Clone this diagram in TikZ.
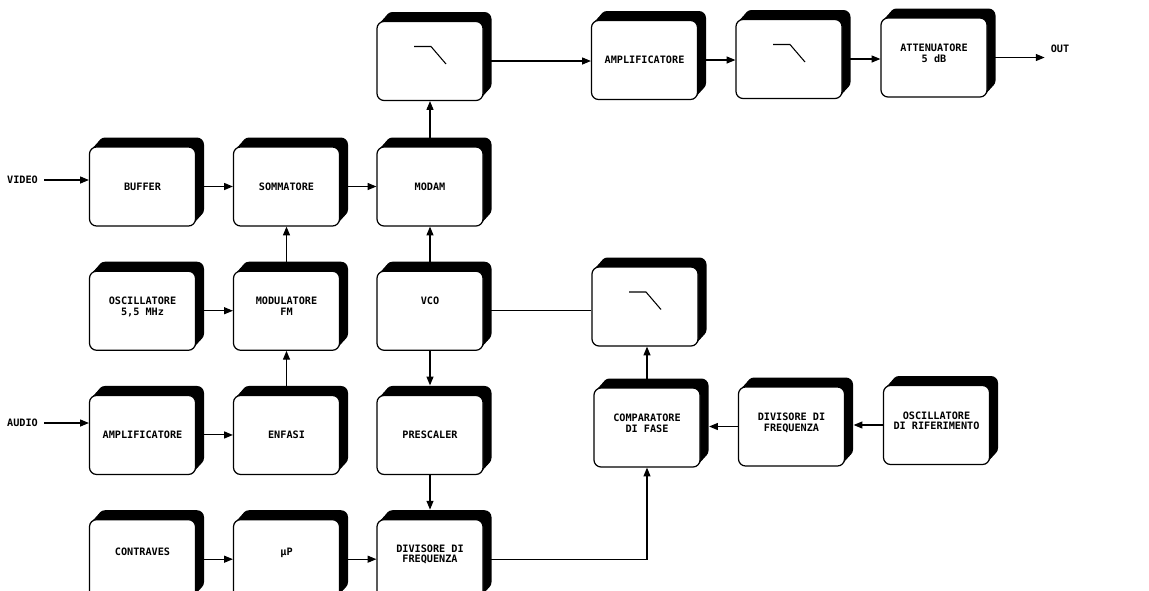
\documentclass[tikz,border=0pt]{standalone}
\usepackage{fontspec}
\newfontfamily\plotfont{DejaVu Sans Mono}
\usepackage{tikz}
\usetikzlibrary{arrows.meta, positioning, shadows}
\tikzset{
  blk/.style ={rectangle, rounded corners=4pt, draw, line width=0.7pt, fill=white,
               minimum width=2.12cm, minimum height=1.58cm, align=center,
               font=\plotfont\bfseries\fontsize{5.8}{6.0}\selectfont,
               general shadow={fill=black, shadow xshift=0.045cm, shadow yshift=0.05cm},
               general shadow={fill=black, shadow xshift=0.09cm,  shadow yshift=0.1cm},
               general shadow={fill=black, shadow xshift=0.135cm, shadow yshift=0.15cm},
               general shadow={fill=black, shadow xshift=0.17cm,  shadow yshift=0.19cm}},
  lpf/.style ={blk, path picture={\draw[line width=0.6pt, sharp corners]
               ([xshift=-0.32cm,yshift=0.29cm]path picture bounding box.center)
               -- ++(0.34cm,0) -- ++(0.3cm,-0.35cm);}},
  lift/.style={text depth=#1},
  sig/.style ={font=\plotfont\bfseries\fontsize{5.8}{6.0}\selectfont},
  arr/.style ={-{Triangle[length=5pt,width=4pt]}, line width=0.6pt},
  arrl/.style={arr, shorten >=0.17cm},
  arrd/.style={arr, shorten >=0.19cm},
}
\begin{document}
\begin{tikzpicture}[node distance=0.88cm and 0.76cm]

  \path[fill=white, use as bounding box] (0,0) rectangle (22.98,-11.8);

  % ── Top row: filters and output stage ──────────────────────────────
  \node[lpf] (filt1) at (8.60,-1.22)  {};
  \node[blk] (amp2)  at (12.89,-1.20) {AMPLIFICATORE};
  \node[lpf] (filt2) at (15.78,-1.18) {};
  \node[blk, lift=0.18cm] (att) at (18.68,-1.15) {ATTENUATORE\\5 dB};
  \node[sig] (out)   at (21.2,-0.98)  {OUT};

  % ── Video / sound chain ────────────────────────────────────────────
  \node[blk] (buf)   at (2.85,-3.73)  {BUFFER};
  \node[blk] (somm)  at (5.73,-3.73)  {SOMMATORE};
  \node[blk] (modam) at (8.60,-3.73)  {MODAM};
  \node[sig] (video) at (0.45,-3.60)  {VIDEO};

  \node[blk, lift=0.18cm, below=of buf]  (osc)   {OSCILLATORE\\5,5 MHz};
  \node[blk, lift=0.18cm, below=of somm] (modfm) {MODULATORE\\FM};
  \node[blk, lift=0.4cm,  below=of modam] (vco)  {VCO};
  \node[lpf] (filt3) at (12.90,-6.13) {};

  \node[blk, below=of osc]   (ampa)  {AMPLIFICATORE};
  \node[blk, below=of modfm] (enf)   {ENFASI};
  \node[blk, below=of vco]   (presc) {PRESCALER};
  \node[sig] (audio) at (0.45,-8.46)  {AUDIO};

  % ── Reference side of the loop ─────────────────────────────────────
  \node[blk, lift=0.18cm] (comp) at (12.94,-8.55) {COMPARATORE\\DI FASE};
  \node[blk, lift=0.18cm] (divr) at (15.83,-8.53) {DIVISORE DI\\FREQUENZA};
  \node[blk, lift=0.18cm] (oscr) at (18.73,-8.50) {OSCILLATORE\\DI RIFERIMENTO};

  % ── Programmable divider ───────────────────────────────────────────
  \node[blk, lift=0.28cm, below=of ampa]  (contr) {CONTRAVES};
  \node[blk, lift=0.28cm, below=of enf]   (mup)   {μP};
  \node[blk, lift=0.22cm, below=of presc] (divf)  {DIVISORE DI\\FREQUENZA};

  % ── Connections ────────────────────────────────────────────────────
  \draw[arr] (video) -- (video -| buf.west);
  \draw[arr] (buf) -- (somm); \draw[arr] (somm) -- (modam);
  \draw[arr] (modam) -- (filt1);
  \draw[arr] (filt1) -- (filt1 -| amp2.west);
  \draw[arr] (amp2) -- (amp2 -| filt2.west);
  \draw[arr] (filt2) -- (filt2 -| att.west);
  \draw[arr] (att) -- (att -| out.west);

  \draw[arr] (osc) -- (modfm); \draw[arr] (modfm) -- (somm);
  \draw[arr] (vco) -- (modam);
  \draw[line width=0.6pt] (vco) -- (vco -| filt3.west);
  \draw[arrd] (vco) -- (presc);

  \draw[arr] (audio) -- (audio -| ampa.west);
  \draw[arr] (ampa) -- (enf); \draw[arr] (enf) -- (modfm);
  \draw[arrd] (presc) -- (divf);
  \draw[arr] (comp) -- (comp |- filt3.south);
  \draw[arrl] (divr) -- (divr -| comp.east);
  \draw[arrl] (oscr) -- (oscr -| divr.east);

  \draw[arr] (contr) -- (mup); \draw[arr] (mup) -- (divf);
  \draw[arr] (divf) -| (comp);

\end{tikzpicture}
\end{document}
